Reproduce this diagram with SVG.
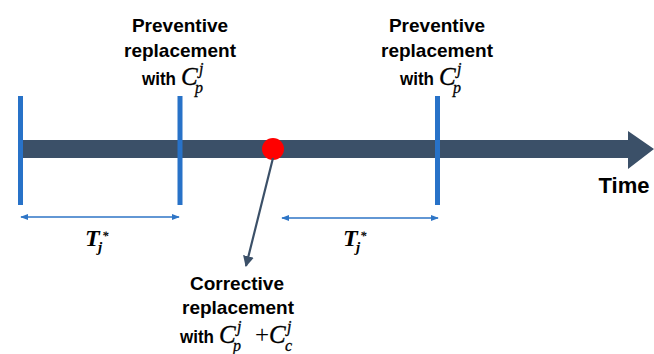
<svg xmlns="http://www.w3.org/2000/svg" width="654" height="354" viewBox="0 0 654 354">
<defs>
<style>
.lbl{font-family:"Liberation Sans",Arial,sans-serif;font-weight:bold;font-size:19px;fill:#000;text-anchor:middle}
.w{font-family:"Liberation Sans",Arial,sans-serif;font-weight:bold;font-size:19px;fill:#000}
.m{font-family:"Liberation Serif","DejaVu Serif",serif;font-style:italic;fill:#000}
.C{font-size:25px;stroke:#000;stroke-width:0.35}
.s{font-size:16px;stroke:#000;stroke-width:0.3}
.tick{fill:#2872C8}
.dim{stroke:#2E75C6;stroke-width:1.6;fill:none}
</style>
<marker id="bh" viewBox="0 0 10 10" refX="9" refY="5" markerWidth="8" markerHeight="8" markerUnits="userSpaceOnUse" orient="auto-start-reverse"><path d="M0,1 L10,5 L0,9 Z" fill="#2E75C6"/></marker>
<marker id="dh" viewBox="0 0 10 10" refX="9" refY="5" markerWidth="11" markerHeight="11" markerUnits="userSpaceOnUse" orient="auto"><path d="M0,0 L10,5 L0,10 Z" fill="#3B5068"/></marker>
</defs>
<g id="timeline">
<path d="M20,140 L628,140 L628,131 L654,149 L628,169 L628,158 L20,158 Z" fill="#3B5068"/>
<text x="624" y="193" style="font-family:'Liberation Sans',Arial,sans-serif;font-weight:bold;font-size:22px;text-anchor:middle">Time</text>
</g>
<g id="tick1"><rect class="tick" x="18" y="96" width="5" height="109"/></g>
<g id="tick2"><rect class="tick" x="177.5" y="96" width="5" height="109"/></g>
<g id="tick3"><rect class="tick" x="435" y="96" width="5" height="109"/></g>
<g id="failure"><circle cx="273" cy="149" r="11" fill="#FF0000"/></g>
<g id="connectors">
<line class="dim" x1="21" y1="217" x2="179" y2="217" marker-start="url(#bh)" marker-end="url(#bh)"/>
<line class="dim" x1="282" y1="218" x2="438" y2="218" marker-start="url(#bh)" marker-end="url(#bh)"/>
<line x1="273" y1="158" x2="246" y2="266" stroke="#3B5068" stroke-width="2.2" marker-end="url(#dh)"/>
</g>
<g id="T1"><text class="m" font-weight="bold"><tspan x="85" y="246" font-size="24">T</tspan><tspan x="102" y="240" font-size="13">*</tspan><tspan x="98" y="252" font-size="15">j</tspan></text></g>
<g id="T2"><text class="m" font-weight="bold"><tspan x="343" y="246" font-size="24">T</tspan><tspan x="360" y="240" font-size="13">*</tspan><tspan x="356" y="252" font-size="15">j</tspan></text></g>
<g id="prev1">
<text class="lbl" x="180" y="32">Preventive</text>
<text class="lbl" x="180" y="57">replacement</text>
<text class="w" x="142" y="85" textLength="34" lengthAdjust="spacingAndGlyphs">with</text>
<text class="m"><tspan class="C" x="181" y="85">C</tspan><tspan class="s" x="199" y="74">j</tspan><tspan class="s" x="195" y="93">p</tspan></text>
</g>
<g id="prev2">
<text class="lbl" x="437" y="32">Preventive</text>
<text class="lbl" x="437" y="57">replacement</text>
<text class="w" x="400" y="85" textLength="34" lengthAdjust="spacingAndGlyphs">with</text>
<text class="m"><tspan class="C" x="439" y="85">C</tspan><tspan class="s" x="457" y="74">j</tspan><tspan class="s" x="453" y="93">p</tspan></text>
</g>
<g id="corr">
<text class="lbl" x="237" y="290">Corrective</text>
<text class="lbl" x="238" y="314">replacement</text>
<text class="w" x="180" y="343" textLength="34" lengthAdjust="spacingAndGlyphs">with</text>
<text class="m"><tspan class="C" x="219" y="343">C</tspan><tspan class="s" x="237" y="332">j</tspan><tspan class="s" x="233" y="351">p</tspan><tspan x="255" y="343" font-size="25" font-style="normal">+</tspan><tspan class="C" x="269" y="343">C</tspan><tspan class="s" x="287" y="332">j</tspan><tspan class="s" x="285" y="351">c</tspan></text>
</g>
</svg>
